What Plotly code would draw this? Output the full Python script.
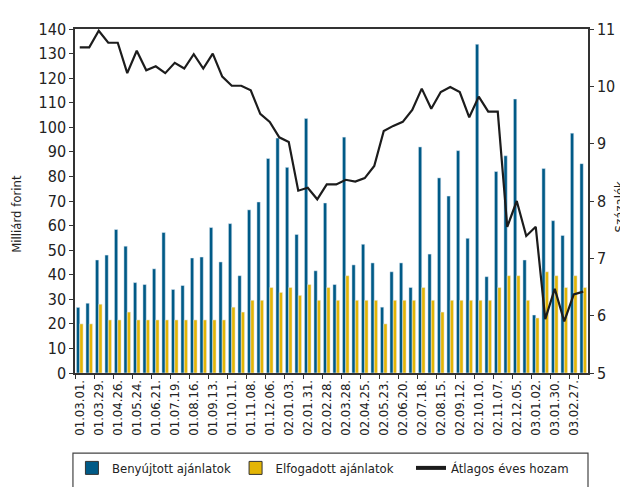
import plotly.graph_objects as go

# biweekly auction dates (yy.mm.dd.)
dates = [
    "01.03.01.", "01.03.15.", "01.03.29.", "01.04.12.", "01.04.26.", "01.05.10.",
    "01.05.24.", "01.06.07.", "01.06.21.", "01.07.05.", "01.07.19.", "01.08.02.",
    "01.08.16.", "01.08.30.", "01.09.13.", "01.09.27.", "01.10.11.", "01.10.25.",
    "01.11.08.", "01.11.22.", "01.12.06.", "01.12.20.",
    "02.01.03.", "02.01.17.", "02.01.31.", "02.02.14.", "02.02.28.", "02.03.14.",
    "02.03.28.", "02.04.11.", "02.04.25.", "02.05.09.", "02.05.23.", "02.06.06.",
    "02.06.20.", "02.07.04.", "02.07.18.", "02.08.01.", "02.08.15.", "02.08.29.",
    "02.09.12.", "02.09.26.", "02.10.10.", "02.10.24.", "02.11.07.", "02.11.21.",
    "02.12.05.", "02.12.19.",
    "03.01.02.", "03.01.16.", "03.01.30.", "03.02.13.", "03.02.27.", "03.03.13.",
]

# Benyújtott ajánlatok (milliárd forint)
submitted = [
    26.7, 28.4, 46.0, 48.0, 58.4, 51.6, 36.8, 36.0, 42.4, 57.2,
    34.0, 35.6, 46.8, 47.2, 59.2, 45.2, 60.8, 39.6, 66.4, 69.6,
    87.3, 95.6, 83.7, 56.4, 103.6, 41.6, 69.2, 36.0, 96.0, 44.0,
    52.4, 44.8, 26.8, 41.2, 44.8, 34.8, 92.0, 48.4, 79.4, 72.0,
    90.5, 54.8, 133.8, 39.2, 82.0, 88.4, 111.5, 46.0, 23.6, 83.2,
    62.0, 56.0, 97.6, 85.2,
]

# Elfogadott ajánlatok (milliárd forint)
accepted = [
    20.0, 20.0, 28.0, 21.6, 21.6, 24.8, 21.6, 21.6, 21.6, 21.6,
    21.6, 21.6, 21.6, 21.6, 21.6, 21.6, 26.8, 24.8, 29.6, 29.6,
    34.8, 32.8, 34.8, 31.6, 36.0, 29.6, 34.8, 29.6, 39.6, 29.6,
    29.6, 29.6, 20.0, 29.6, 29.6, 29.6, 34.8, 29.6, 24.8, 29.6,
    29.6, 29.6, 29.6, 29.6, 34.8, 39.6, 39.6, 29.6, 22.4, 41.2,
    39.6, 34.8, 39.6, 34.8,
]

# Átlagos éves hozam (százalék)
avg_yield = [
    10.68, 10.68, 10.97, 10.76, 10.76, 10.23, 10.62, 10.28, 10.35, 10.23,
    10.41, 10.31, 10.56, 10.31, 10.57, 10.17, 10.01, 10.01, 9.93, 9.52,
    9.38, 9.11, 9.03, 8.18, 8.23, 8.03, 8.29, 8.29, 8.37, 8.34,
    8.40, 8.61, 9.22, 9.31, 9.38, 9.59, 9.96, 9.61, 9.90, 9.99,
    9.90, 9.46, 9.82, 9.56, 9.56, 7.55, 8.00, 7.39, 7.55, 5.94,
    6.47, 5.90, 6.37, 6.42,
]

FONT = "Liberation Sans Narrow, DejaVu Sans Condensed, Arial Narrow, sans-serif"
BLUE = "#005a87"
YELLOW = "#e3b505"
LINE = "#1c1c1c"

fig = go.Figure()
fig.add_trace(go.Bar(x=dates, y=submitted, name="Benyújtott ajánlatok",
                     marker=dict(color=BLUE), showlegend=False))
fig.add_trace(go.Bar(x=dates, y=accepted, name="Elfogadott ajánlatok",
                     marker=dict(color=YELLOW), showlegend=False))
fig.add_trace(go.Scatter(x=dates, y=avg_yield, name="Átlagos éves hozam",
                         mode="lines", yaxis="y2", showlegend=False,
                         line=dict(color=LINE, width=2.2)))

# legend entries (outlined swatches, thick line like the original key),
# each in its own legend so they sit where the original key has them
fig.add_trace(go.Scatter(x=[None], y=[None], mode="markers", name="Benyújtott ajánlatok",
                         legend="legend",
                         marker=dict(symbol="square", size=13, color=BLUE,
                                     line=dict(color="#333", width=1))))
fig.add_trace(go.Scatter(x=[None], y=[None], mode="markers", name="Elfogadott ajánlatok",
                         legend="legend2",
                         marker=dict(symbol="square", size=13, color=YELLOW,
                                     line=dict(color="#333", width=1))))
fig.add_trace(go.Scatter(x=[None], y=[None], mode="lines", name="Átlagos éves hozam",
                         legend="legend3", line=dict(color=LINE, width=4)))

leg = dict(orientation="h", y=-0.276, xanchor="left", yanchor="middle",
           font=dict(size=13), bgcolor="rgba(0,0,0,0)", itemsizing="trace")

fig.update_layout(
    width=628, height=487,
    margin=dict(l=67, r=48, t=16, b=119),
    paper_bgcolor="white", plot_bgcolor="white",
    font=dict(family=FONT, size=13, color="#222"),
    barmode="group", bargap=0.3, bargroupgap=0,
    showlegend=True,
    legend=dict(leg, x=-0.006),
    legend2=dict(leg, x=0.313),
    legend3=dict(leg, x=0.655),
    xaxis=dict(
        type="category", tickmode="array", tickvals=dates[::2], ticktext=dates[::2],
        tickangle=-90, tickfont=dict(size=13), tickson="boundaries",
        ticks="outside", ticklen=4, tickcolor="#333",
        showline=True, linecolor="#333", linewidth=1.5, mirror=True,
        showgrid=False, zeroline=False,
    ),
    yaxis=dict(
        range=[0, 140], dtick=10, ticks="outside", ticklen=4, tickcolor="#333",
        showline=True, linecolor="#333", linewidth=1.5, showgrid=False,
        zeroline=False, tickfont=dict(size=16),
    ),
    yaxis2=dict(
        overlaying="y", side="right", range=[5, 11], dtick=1,
        ticks="outside", ticklen=4, tickcolor="#333",
        showline=True, linecolor="#333", linewidth=1.5, showgrid=False,
        zeroline=False, tickfont=dict(size=16),
    ),
    annotations=[
        dict(text="Milliárd forint", xref="paper", yref="paper", x=-0.113, y=0.463,
             xanchor="center", yanchor="middle",
             textangle=-90, showarrow=False, font=dict(size=13)),
        dict(text="Százalék", xref="paper", yref="paper", x=1.08, y=0.483,
             xanchor="right", yanchor="middle",
             textangle=-90, showarrow=False, font=dict(size=13)),
    ],
    shapes=[
        dict(type="rect", xref="paper", yref="paper", x0=-0.004, x1=1.0,
             y0=-0.6, y1=-0.233, line=dict(color="#444", width=1.2)),
    ],
)

fig.write_html("out.html")
